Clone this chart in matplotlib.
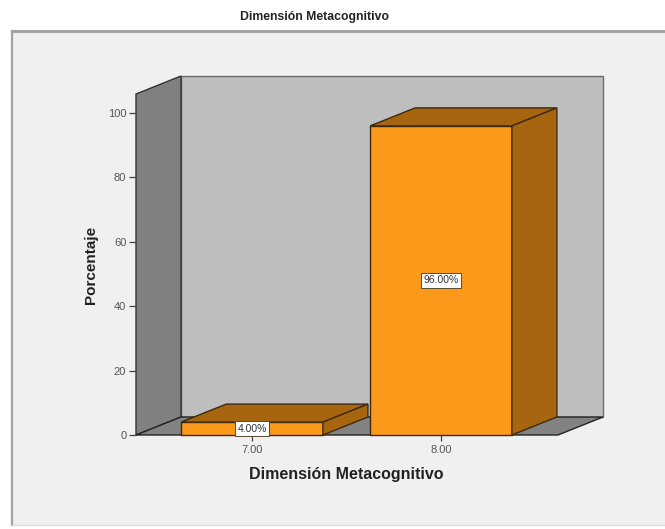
import numpy as np
import matplotlib
matplotlib.use("Agg")
import matplotlib.pyplot as plt
from matplotlib.lines import Line2D
from matplotlib.patches import Polygon, Rectangle

categories = ["7.00", "8.00"]
values = [4.0, 96.0]
bar_labels = ["4.00%", "96.00%"]
yticks = [0, 20, 40, 60, 80, 100]

W, H = 665, 529
ORANGE = "#fb991a"
DARK_ORANGE = "#a8650f"
EDGE = "#3d2a0e"

plt.rcParams["font.family"] = ["Liberation Sans", "DejaVu Sans"]

fig = plt.figure(figsize=(W / 100, H / 100), dpi=100, facecolor="white")

# outer panel, it has no border on the right
panel = Rectangle((12 / W, 1 - 525 / H), (W - 12) / W, 494 / H, transform=fig.transFigure,
                  facecolor="#f0f0f0", edgecolor="none", zorder=-1)
fig.add_artist(panel)
fig.add_artist(Line2D([12 / W, 1], [1 - 31 / H, 1 - 31 / H], color="#a3a3a3", lw=2.2, zorder=-1))
fig.add_artist(Line2D([12 / W, 12 / W], [1 - 525 / H, 1 - 31 / H], color="#a3a3a3", lw=1.6, zorder=-1))
fig.add_artist(Line2D([12 / W, 1], [1 - 525 / H, 1 - 525 / H], color="#dcdcdc", lw=1.0, zorder=-1))

# front plane of the 3d box, 136..558 px wide and 435..94 px high
ax = fig.add_axes([136 / W, 1 - 435 / H, 422 / W, 341 / H])
ax.set_xlim(-0.614, 1.619)
ax.set_ylim(0, 105.9)
ax.patch.set_visible(False)
for s in ax.spines.values():
    s.set_visible(False)

# depth of the box in data units
dx = 45 / 189
dy = 18 / 3.22
x0, x1 = ax.get_xlim()
ytop = ax.get_ylim()[1]


def poly(pts, fc, ec=EDGE, lw=1.0, z=2):
    ax.add_patch(Polygon(pts, closed=True, facecolor=fc, edgecolor=ec, lw=lw, zorder=z, clip_on=False))


# walls and floor
poly([(x0 + dx, dy), (x1 + dx, dy), (x1 + dx, ytop + dy), (x0 + dx, ytop + dy)], "#bebebe", "#6a6a6a", 1.0, 1)
poly([(x0, 0), (x0 + dx, dy), (x0 + dx, ytop + dy), (x0, ytop)], "#808080", "#333333", 1.0, 1)
poly([(x0, 0), (x1, 0), (x1 + dx, dy), (x0 + dx, dy)], "#828282", "#222222", 1.0, 1)

# bars
width = 0.75
for i, v in enumerate(values):
    l, r = i - width / 2, i + width / 2
    z = 3 + i
    poly([(l, 0), (r, 0), (r, v), (l, v)], ORANGE, z=z)
    poly([(l, v), (r, v), (r + dx, v + dy), (l + dx, v + dy)], DARK_ORANGE, z=z)
    poly([(r, 0), (r + dx, dy), (r + dx, v + dy), (r, v)], DARK_ORANGE, z=z)
    ax.text(i, v / 2 if v > 10 else 1.9, bar_labels[i], ha="center", va="center", fontsize=7.5, color="#333333",
            zorder=10, bbox=dict(boxstyle="square,pad=0.25", facecolor="white", edgecolor="#5a4a30", lw=0.7))

ax.set_xticks(range(len(categories)))
ax.set_xticklabels(categories)
ax.set_yticks(yticks)
ax.tick_params(axis="both", labelsize=8, length=5, width=0.9, color="#444444", labelcolor="#555555", pad=2)
ax.tick_params(axis="x", length=4, pad=3)
ax.set_xlabel("Dimensión Metacognitivo", fontsize=11.5, fontweight="bold", color="#222222", labelpad=9)
ax.xaxis.label.set_x((346 - 136) / 422)
ax.set_ylabel("Porcentaje", fontsize=11, fontweight="bold", color="#222222", labelpad=7)

fig.text(315 / W, 1 - 17 / H, "Dimensión Metacognitivo", ha="center", va="center", fontsize=8.8,
         fontweight="bold", color="#222222")

fig.savefig("out.png", dpi=100)
